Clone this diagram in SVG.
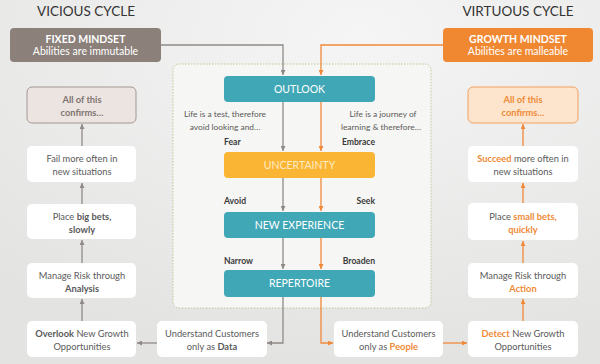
<svg xmlns="http://www.w3.org/2000/svg" width="600" height="364" viewBox="0 0 600 364">
<defs>
<radialGradient id="bg" cx="0.6" cy="0.1" r="0.9">
<stop offset="0" stop-color="#f5f5f5"/>
<stop offset="1" stop-color="#e3e3e2"/>
</radialGradient>
<marker id="ag" viewBox="0 0 10 10" refX="10" refY="5" markerWidth="6" markerHeight="5" markerUnits="userSpaceOnUse" orient="auto"><path d="M0,0 L10,5 L0,10 z" fill="#8f8a87"/></marker>
<marker id="ao" viewBox="0 0 10 10" refX="10" refY="5" markerWidth="6" markerHeight="5" markerUnits="userSpaceOnUse" orient="auto"><path d="M0,0 L10,5 L0,10 z" fill="#f0893a"/></marker>
</defs>
<style>
text{font-family:Lato,"Open Sans","Liberation Sans",sans-serif;}
.title{font-size:13.5px;fill:#333;text-anchor:middle;}
.box{fill:#ffffff;}
.t{font-size:9.3px;fill:#5a5a5a;text-anchor:middle;}
.s{font-size:8.4px;}
.b{font-weight:bold;}
.tg{fill:#7f7570;font-weight:bold;}
.to{fill:#ef8a37;font-weight:bold;}
.lbl{font-size:8.6px;fill:#3a3a3a;font-weight:bold;}
.core{font-size:10.5px;text-anchor:middle;}
.g{stroke:#8f8a87;stroke-width:1.3;fill:none;marker-end:url(#ag);}
.o{stroke:#f0893a;stroke-width:1.3;fill:none;marker-end:url(#ao);}
</style>
<rect width="600" height="364" fill="url(#bg)"/>
<text class="title" x="86" y="16">VICIOUS CYCLE</text>
<text class="title" x="518" y="16">VIRTUOUS CYCLE</text>

<g id="panel">
<rect x="173" y="64" width="258" height="244" rx="6" fill="#f6f6f4" stroke="#b9cc9c" stroke-width="1" stroke-dasharray="1.5 1.5"/>
<text class="t s" x="225" y="117">Life is a test, therefore</text>
<text class="t s" x="225" y="130">avoid looking and…</text>
<text class="t s" x="383" y="117">Life is a journey of</text>
<text class="t s" x="381" y="130">learning &amp; therefore…</text>
<text class="lbl" x="224" y="145">Fear</text>
<text class="lbl" x="375" y="145" text-anchor="end">Embrace</text>
<text class="lbl" x="224" y="204">Avoid</text>
<text class="lbl" x="375" y="204" text-anchor="end">Seek</text>
<text class="lbl" x="224" y="264">Narrow</text>
<text class="lbl" x="375" y="264" text-anchor="end">Broaden</text>
</g>

<g id="connectors">
<path class="g" d="M161,45 H283 V75"/>
<path class="o" d="M443,45 H321 V75"/>
<path class="g" d="M283,102 V151"/>
<path class="o" d="M321,102 V151"/>
<path class="g" d="M283,178 V211"/>
<path class="o" d="M321,178 V211"/>
<path class="g" d="M283,238 V269"/>
<path class="o" d="M321,238 V269"/>
<path class="g" d="M283,297 V343 H267"/>
<path class="o" d="M321,297 V343 H333"/>
<path class="g" d="M157,343 H137"/>
<path class="o" d="M443,343 H467"/>
<path class="g" d="M82,321 V299"/>
<path class="g" d="M82,263 V240"/>
<path class="g" d="M82,204 V183"/>
<path class="g" d="M82,146 V124"/>
<path class="o" d="M523,321 V299"/>
<path class="o" d="M523,263 V241"/>
<path class="o" d="M523,203 V183"/>
<path class="o" d="M523,146 V124"/>
</g>

<g id="fixed">
<rect x="10" y="28" width="151" height="34" rx="4" fill="#8b807a"/>
<text x="85.5" y="43" class="core" fill="#fff" font-weight="bold" font-size="10.5">FIXED MINDSET</text>
<text x="85.5" y="55" class="core" fill="#fff" font-size="9">Abilities are immutable</text>
</g>
<g id="growth">
<rect x="443" y="28" width="150" height="34" rx="4" fill="#f08832"/>
<text x="518" y="43" class="core" fill="#fff" font-weight="bold" font-size="10.5">GROWTH MINDSET</text>
<text x="518" y="55" class="core" fill="#fff" font-size="9">Abilities are malleable</text>
</g>

<g id="outlook">
<rect x="224" y="76" width="151" height="26" rx="4" fill="#3fa7b5"/>
<text class="core" x="299.5" y="93" fill="#fff">OUTLOOK</text>
</g>
<g id="uncertainty">
<rect x="224" y="152" width="151" height="26" rx="4" fill="#fbb534"/>
<text class="core" x="299.5" y="169" fill="#fdebc4">UNCERTAINTY</text>
</g>
<g id="newexperience">
<rect x="224" y="212" width="151" height="26" rx="4" fill="#3fa7b5"/>
<text class="core" x="299.5" y="229" fill="#fff">NEW EXPERIENCE</text>
</g>
<g id="repertoire">
<rect x="224" y="270" width="151" height="27" rx="4" fill="#3fa7b5"/>
<text class="core" x="299.5" y="287" fill="#fff">REPERTOIRE</text>
</g>

<g id="confirmsL">
<rect x="27" y="87" width="109" height="36" rx="5" fill="#ece4e1" stroke="#a39892" stroke-width="1"/>
<text class="t tg" x="82" y="103">All of this</text>
<text class="t tg" x="82" y="116">confirms…</text>
</g>
<g id="failL">
<rect class="box" x="27" y="146" width="109" height="36" rx="5"/>
<text class="t" x="82" y="162">Fail more often in</text>
<text class="t" x="82" y="175">new situations</text>
</g>
<g id="betsL">
<rect class="box" x="27" y="204" width="109" height="35" rx="5"/>
<text class="t" x="82" y="220">Place <tspan class="b">big bets,</tspan></text>
<text class="t b" x="82" y="233">slowly</text>
</g>
<g id="riskL">
<rect class="box" x="27" y="263" width="109" height="35" rx="5"/>
<text class="t" x="82" y="279">Manage Risk through</text>
<text class="t b" x="82" y="292">Analysis</text>
</g>
<g id="overlook">
<rect class="box" x="27" y="321" width="109" height="36" rx="5"/>
<text class="t" x="82" y="337"><tspan class="b">Overlook</tspan> New Growth</text>
<text class="t" x="82" y="350">Opportunities</text>
</g>
<g id="data">
<rect class="box" x="157" y="321" width="110" height="36" rx="5"/>
<text class="t" x="212" y="337">Understand Customers</text>
<text class="t" x="212" y="350">only as <tspan class="b">Data</tspan></text>
</g>
<g id="people">
<rect class="box" x="334" y="321" width="109" height="36" rx="5"/>
<text class="t" x="388.5" y="337">Understand Customers</text>
<text class="t" x="388.5" y="350">only as <tspan class="to">People</tspan></text>
</g>
<g id="detect">
<rect class="box" x="468" y="321" width="110" height="36" rx="5"/>
<text class="t" x="523" y="337"><tspan class="to">Detect</tspan> New Growth</text>
<text class="t" x="523" y="350">Opportunities</text>
</g>
<g id="riskR">
<rect class="box" x="468" y="263" width="110" height="35" rx="5"/>
<text class="t" x="523" y="279">Manage Risk through</text>
<text class="t to" x="523" y="292">Action</text>
</g>
<g id="betsR">
<rect class="box" x="468" y="203" width="110" height="37" rx="5"/>
<text class="t" x="523" y="220">Place <tspan class="to">small bets,</tspan></text>
<text class="t to" x="523" y="233">quickly</text>
</g>
<g id="succeedR">
<rect class="box" x="468" y="146" width="110" height="36" rx="5"/>
<text class="t" x="523" y="162"><tspan class="to">Succeed</tspan> more often in</text>
<text class="t" x="523" y="175">new situations</text>
</g>
<g id="confirmsR">
<rect x="468" y="87" width="110" height="36" rx="5" fill="#fde5cd" stroke="#f1a15e" stroke-width="1"/>
<text class="t to" x="523" y="103">All of this</text>
<text class="t to" x="523" y="116">confirms…</text>
</g>
</svg>
